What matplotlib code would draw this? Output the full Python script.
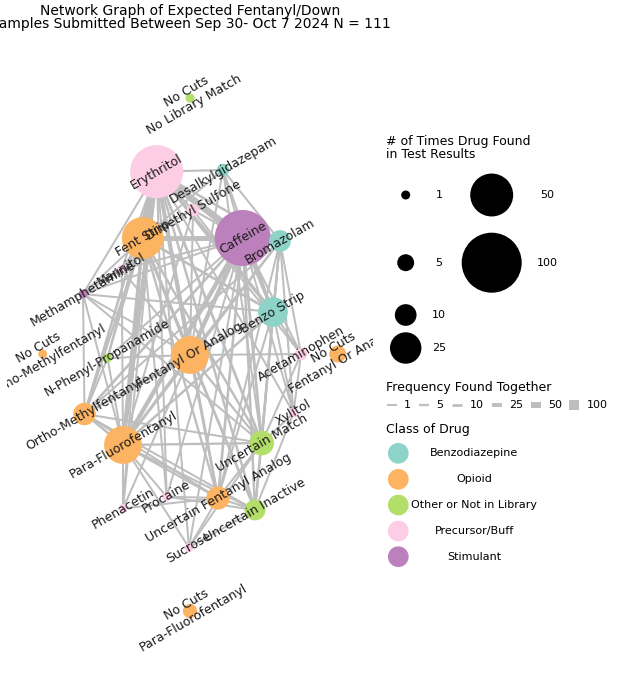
import matplotlib
matplotlib.use("Agg")
import matplotlib.pyplot as plt
from matplotlib.collections import LineCollection

# nodes: drug name, class, number of results the drug was found in
drug_names = [
    "Erythritol", "Desalkylgidazepam", "Dimethyl Sulfone", "Fent Strip",
    "Caffeine", "Bromazolam", "Mannitol", "Methamphetamine", "Benzo Strip",
    "Fentanyl Or Analog", "N-Phenyl-Propanamide", "Acetaminophen",
    "Ortho-Methylfentanyl", "Xylitol", "Para-Fluorofentanyl", "Uncertain Match",
    "Phenacetin", "Procaine", "Uncertain Fentanyl Analog", "Uncertain Inactive",
    "Sucrose", "No Cuts\nNo Library Match", "No Cuts\nOrtho-Methylfentanyl",
    "No Cuts\nFentanyl Or Analog", "No Cuts\nPara-Fluorofentanyl",
]
drug_class = [
    "Precursor/Buff", "Benzodiazepine", "Precursor/Buff", "Opioid",
    "Stimulant", "Benzodiazepine", "Precursor/Buff", "Stimulant", "Benzodiazepine",
    "Opioid", "Other or Not in Library", "Precursor/Buff",
    "Opioid", "Precursor/Buff", "Opioid", "Other or Not in Library",
    "Precursor/Buff", "Precursor/Buff", "Opioid", "Other or Not in Library",
    "Precursor/Buff", "Other or Not in Library", "Opioid",
    "Opioid", "Opioid",
]
times_found = [78, 2, 2, 47, 87, 10, 1, 1, 22, 38, 1, 2, 11, 1, 38, 14,
               1, 1, 12, 9, 1, 1, 1, 5, 3]

# force-directed layout result (axis units)
layout_x = [156.7, 223, 193, 142.7, 242.7, 280, 121.7, 83, 273, 190, 107.5, 301,
            84.5, 293.5, 123, 261.7, 123, 166.7, 218, 255, 189, 190, 42.7, 337.7, 190]
layout_y = [171.7, 170, 210, 238, 238, 241, 269.3, 294, 312, 355, 358, 354,
            414, 413, 445, 443, 508.5, 496.7, 498, 510, 547.5, 98, 354, 354, 611]

# edges: how many results two drugs were found in together
co_occurrence = [
    ("Erythritol", "Caffeine", 61), ("Erythritol", "Fent Strip", 33),
    ("Caffeine", "Fent Strip", 37), ("Erythritol", "Fentanyl Or Analog", 27),
    ("Caffeine", "Fentanyl Or Analog", 30), ("Erythritol", "Para-Fluorofentanyl", 27),
    ("Caffeine", "Para-Fluorofentanyl", 30), ("Fent Strip", "Fentanyl Or Analog", 16),
    ("Fent Strip", "Para-Fluorofentanyl", 18), ("Fentanyl Or Analog", "Para-Fluorofentanyl", 8),
    ("Erythritol", "Benzo Strip", 15), ("Caffeine", "Benzo Strip", 17),
    ("Fent Strip", "Benzo Strip", 9), ("Fentanyl Or Analog", "Benzo Strip", 7),
    ("Para-Fluorofentanyl", "Benzo Strip", 7),
    ("Erythritol", "Uncertain Match", 10), ("Caffeine", "Uncertain Match", 11),
    ("Fent Strip", "Uncertain Match", 6), ("Fentanyl Or Analog", "Uncertain Match", 4),
    ("Para-Fluorofentanyl", "Uncertain Match", 5), ("Benzo Strip", "Uncertain Match", 3),
    ("Erythritol", "Uncertain Fentanyl Analog", 8), ("Caffeine", "Uncertain Fentanyl Analog", 9),
    ("Fent Strip", "Uncertain Fentanyl Analog", 5), ("Fentanyl Or Analog", "Uncertain Fentanyl Analog", 3),
    ("Para-Fluorofentanyl", "Uncertain Fentanyl Analog", 4), ("Benzo Strip", "Uncertain Fentanyl Analog", 2),
    ("Uncertain Match", "Uncertain Fentanyl Analog", 2),
    ("Erythritol", "Ortho-Methylfentanyl", 8), ("Caffeine", "Ortho-Methylfentanyl", 9),
    ("Fent Strip", "Ortho-Methylfentanyl", 5), ("Fentanyl Or Analog", "Ortho-Methylfentanyl", 3),
    ("Para-Fluorofentanyl", "Ortho-Methylfentanyl", 6), ("Benzo Strip", "Ortho-Methylfentanyl", 2),
    ("Uncertain Match", "Ortho-Methylfentanyl", 1), ("Uncertain Fentanyl Analog", "Ortho-Methylfentanyl", 1),
    ("Erythritol", "Bromazolam", 7), ("Caffeine", "Bromazolam", 8),
    ("Fent Strip", "Bromazolam", 4), ("Fentanyl Or Analog", "Bromazolam", 3),
    ("Para-Fluorofentanyl", "Bromazolam", 3), ("Benzo Strip", "Bromazolam", 4),
    ("Uncertain Match", "Bromazolam", 1), ("Uncertain Fentanyl Analog", "Bromazolam", 1),
    ("Ortho-Methylfentanyl", "Bromazolam", 1),
    ("Erythritol", "Uncertain Inactive", 6), ("Caffeine", "Uncertain Inactive", 7),
    ("Fent Strip", "Uncertain Inactive", 4), ("Fentanyl Or Analog", "Uncertain Inactive", 3),
    ("Para-Fluorofentanyl", "Uncertain Inactive", 3), ("Benzo Strip", "Uncertain Inactive", 2),
    ("Uncertain Match", "Uncertain Inactive", 2), ("Uncertain Fentanyl Analog", "Uncertain Inactive", 2),
    ("Ortho-Methylfentanyl", "Uncertain Inactive", 1), ("Bromazolam", "Uncertain Inactive", 1),
    ("Desalkylgidazepam", "Erythritol", 2), ("Desalkylgidazepam", "Caffeine", 2),
    ("Desalkylgidazepam", "Fent Strip", 1), ("Desalkylgidazepam", "Benzo Strip", 1),
    ("Desalkylgidazepam", "Bromazolam", 1), ("Desalkylgidazepam", "Fentanyl Or Analog", 1),
    ("Desalkylgidazepam", "Uncertain Match", 1),
    ("Dimethyl Sulfone", "Erythritol", 2), ("Dimethyl Sulfone", "Caffeine", 2),
    ("Dimethyl Sulfone", "Fent Strip", 1), ("Dimethyl Sulfone", "Para-Fluorofentanyl", 1),
    ("Dimethyl Sulfone", "Fentanyl Or Analog", 1), ("Dimethyl Sulfone", "Benzo Strip", 1),
    ("Mannitol", "Erythritol", 1), ("Mannitol", "Caffeine", 1),
    ("Mannitol", "Fent Strip", 1), ("Mannitol", "Para-Fluorofentanyl", 1),
    ("Mannitol", "Fentanyl Or Analog", 1),
    ("Methamphetamine", "Erythritol", 1), ("Methamphetamine", "Caffeine", 1),
    ("Methamphetamine", "Fent Strip", 1), ("Methamphetamine", "Fentanyl Or Analog", 1),
    ("Methamphetamine", "Para-Fluorofentanyl", 1), ("Methamphetamine", "Ortho-Methylfentanyl", 1),
    ("Methamphetamine", "Benzo Strip", 1), ("Methamphetamine", "Mannitol", 1),
    ("Methamphetamine", "Uncertain Match", 1),
    ("N-Phenyl-Propanamide", "Caffeine", 1), ("N-Phenyl-Propanamide", "Erythritol", 1),
    ("N-Phenyl-Propanamide", "Fentanyl Or Analog", 1), ("N-Phenyl-Propanamide", "Para-Fluorofentanyl", 1),
    ("N-Phenyl-Propanamide", "Fent Strip", 1), ("N-Phenyl-Propanamide", "Ortho-Methylfentanyl", 1),
    ("Acetaminophen", "Caffeine", 2), ("Acetaminophen", "Benzo Strip", 1),
    ("Acetaminophen", "Erythritol", 1), ("Acetaminophen", "Uncertain Match", 1),
    ("Acetaminophen", "Fentanyl Or Analog", 1), ("Acetaminophen", "Bromazolam", 1),
    ("Acetaminophen", "Xylitol", 1),
    ("Xylitol", "Caffeine", 1), ("Xylitol", "Benzo Strip", 1),
    ("Xylitol", "Uncertain Match", 1), ("Xylitol", "Erythritol", 1),
    ("Xylitol", "Bromazolam", 1), ("Xylitol", "Uncertain Inactive", 1),
    ("Phenacetin", "Para-Fluorofentanyl", 1), ("Phenacetin", "Caffeine", 1),
    ("Phenacetin", "Erythritol", 1), ("Phenacetin", "Fent Strip", 1),
    ("Phenacetin", "Uncertain Fentanyl Analog", 1),
    ("Procaine", "Para-Fluorofentanyl", 1), ("Procaine", "Caffeine", 1),
    ("Procaine", "Uncertain Fentanyl Analog", 1), ("Procaine", "Erythritol", 1),
    ("Procaine", "Fent Strip", 1), ("Procaine", "Uncertain Inactive", 1),
    ("Sucrose", "Uncertain Fentanyl Analog", 1), ("Sucrose", "Uncertain Inactive", 1),
    ("Sucrose", "Para-Fluorofentanyl", 1), ("Sucrose", "Caffeine", 1),
    ("Sucrose", "Erythritol", 1), ("Sucrose", "Uncertain Match", 1),
]

class_names = ["Benzodiazepine", "Opioid", "Other or Not in Library",
               "Precursor/Buff", "Stimulant"]
class_colors = ["#8DD3C7", "#FDB462", "#B3DE69", "#FCCDE5", "#BC80BD"]

size_breaks = [1, 5, 10, 25, 50, 100]
width_breaks = [1, 5, 10, 25, 50, 100]

PX = 72 / 100  # points per pixel
EDGE = "#BEBEBE"


def node_diameter(n):
    # pixels
    return 9 + 51 * ((n - 1) / 99) ** 0.58


def edge_width(w):
    # pixels
    return 2 + 8 * (w - 1) / 99


fig = plt.figure(figsize=(6.39, 6.80), dpi=100)

# network panel
ax = fig.add_axes([7 / 639, 0, 366 / 639, 640 / 680])
ax.set_xlim(7, 373)
ax.set_ylim(680, 40)
ax.axis("off")

pos = dict(zip(drug_names, zip(layout_x, layout_y)))
segs = [[pos[a], pos[b]] for a, b, w in co_occurrence]
lws = [edge_width(w) * PX for a, b, w in co_occurrence]
ax.add_collection(LineCollection(segs, linewidths=lws, colors=EDGE,
                                 capstyle="butt", zorder=1))

col_of = dict(zip(class_names, class_colors))
ax.scatter(layout_x, layout_y,
           s=[(node_diameter(n) * PX) ** 2 for n in times_found],
           c=[col_of[c] for c in drug_class], edgecolors="none", zorder=2)

for name, x, y in zip(drug_names, layout_x, layout_y):
    ax.text(x, y, name, rotation=30, rotation_mode="anchor", ha="center",
            va="center", fontsize=9, color="#1a1a1a", clip_on=True,
            multialignment="center", zorder=3)

fig.text(190 / 639, 1 - 4 / 680,
         "Network Graph of Expected Fentanyl/Down\n"
         "Samples Submitted Between Sep 30- Oct 7 2024 N = 111",
         ha="center", va="top", fontsize=10, linespacing=0.95)

# legends
lax = fig.add_axes([0, 0, 1, 1])
lax.set_xlim(0, 639)
lax.set_ylim(680, 0)
lax.axis("off")

lax.text(386, 148, "# of Times Drug Found\nin Test Results", ha="left",
         va="center", fontsize=9, linespacing=0.9)
size_x = [405.7, 405.7, 405.7, 405.7, 491.7, 491.7]
size_y = [195, 262.7, 315, 348, 195, 262.7]
size_lab_x = [439, 439, 439, 439, 547, 547]
lax.scatter(size_x, size_y, s=[(node_diameter(n) * PX) ** 2 for n in size_breaks],
            c="black", edgecolors="none")
for b, x, y in zip(size_breaks, size_lab_x, size_y):
    lax.text(x, y, str(b), ha="center", va="center", fontsize=8)

lax.text(386, 388, "Frequency Found Together", ha="left", va="center", fontsize=9)
key_x = [386.7, 419, 452, 491.7, 530.7, 569.3]
for b, x in zip(width_breaks, key_x):
    lax.plot([x, x + 10], [405, 405], color=EDGE, lw=edge_width(b) * PX,
             solid_capstyle="butt")
    lax.text(x + 17.5, 405, str(b), ha="left", va="center", fontsize=8)

lax.text(386, 429, "Class of Drug", ha="left", va="center", fontsize=9)
class_y = [453.3, 479.3, 505, 531, 556.7]
lax.scatter([398.3] * len(class_names), class_y, s=(20.7 * PX) ** 2,
            c=class_colors, edgecolors="none")
for name, y in zip(class_names, class_y):
    lax.text(474, y, name, ha="center", va="center", fontsize=8)

fig.savefig("out.png", dpi=100)
